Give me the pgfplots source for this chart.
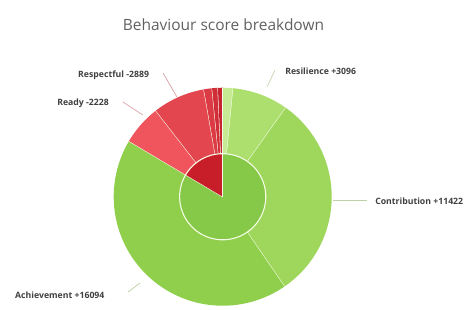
\documentclass[border=0pt]{standalone}
\usepackage{fontspec}
\setmainfont{Open Sans}
\usepackage{pgfplots}
\usepackage{pgfplotstable}
\pgfplotsset{compat=1.18}

\definecolor{cSml}{HTML}{C6EA94}
\definecolor{cRes}{HTML}{ADDF6E}
\definecolor{cCon}{HTML}{9FD75D}
\definecolor{cAch}{HTML}{8FCF4C}
\definecolor{cRea}{HTML}{F0545C}
\definecolor{cResp}{HTML}{E44650}
\definecolor{cNa}{HTML}{DC3A44}
\definecolor{cNb}{HTML}{D22E3A}
\definecolor{cNc}{HTML}{C92230}
\definecolor{cPos}{HTML}{86C847}
\definecolor{cNeg}{HTML}{C81E2A}
\definecolor{sep}{HTML}{F4FBE4}

% outer ring (categories)
\pgfplotstableread[col sep=comma]{
name,value,col
Other,575,cSml
Resilience,3096,cRes
Contribution,11422,cCon
Achievement,16094,cAch
Ready,2228,cRea
Respectful,2889,cResp
NegA,450,cNa
NegB,320,cNb
NegC,260,cNc
}\outerdata

% inner ring (positive / negative totals)
\pgfplotstableread[col sep=comma]{
name,value,col
Positive,31187,cPos
Negative,6147,cNeg
}\innerdata

\newcommand\drawring[3]{% table, r_in, r_out
  \pgfplotstablegetrowsof{#1}\pgfmathtruncatemacro\nlast{\pgfplotsretval-1}%
  \xdef\tot{0}%
  \foreach \i in {0,...,\nlast}{%
    \pgfplotstablegetelem{\i}{value}\of{#1}\xdef\tot{\fpeval{\tot+\pgfplotsretval}}}%
  \xdef\cum{0}%
  \foreach \i in {0,...,\nlast}{%
    \pgfplotstablegetelem{\i}{value}\of{#1}\edef\v{\pgfplotsretval}%
    \pgfplotstablegetelem{\i}{col}\of{#1}\edef\cc{\pgfplotsretval}%
    \edef\aa{\fpeval{round(90-\cum/\tot*360,4)}}%
    \edef\ab{\fpeval{round(90-(\cum+\v)/\tot*360,4)}}%
    \fill[\cc] plot[domain=\aa:\ab,samples=60,variable=\q] ({#2*cos(\q)},{#2*sin(\q)})
       -- plot[domain=\ab:\aa,samples=60,variable=\q] ({#3*cos(\q)},{#3*sin(\q)}) -- cycle;
    \draw[sep,line width=0.8pt] ({#2*cos(\ab)},{#2*sin(\ab)}) -- ({#3*cos(\ab)},{#3*sin(\ab)});
    \xdef\cum{\fpeval{\cum+\v}}%
  }%
}

\begin{document}
\begin{tikzpicture}
\begin{axis}[scale only axis, width=12cm, height=7.856cm,
  xmin=-2.043, xmax=2.287, ymin=-1.030, ymax=1.805,
  hide axis, clip=false]
\pgfplotsextra{
  \drawring{\outerdata}{0.395}{1}
  \drawring{\innerdata}{0}{0.395}
  \draw[sep,line width=0.8pt] plot[domain=0:360,samples=120,variable=\q] ({0.395*cos(\q)},{0.395*sin(\q)});
}
\path (axis cs:-2.043,-1.030) rectangle (axis cs:2.287,1.805);
\node[font=\fontsize{11.2}{13}\selectfont, text=black!62] at (axis cs:0.007,1.575) {Behaviour score breakdown};
\tikzset{lbl/.style={anchor=west, font=\fontsize{6.3}{7}\selectfont\bfseries, text=black!75, inner sep=0pt}}
\draw[cRes!60!gray!60, line width=0.5pt] (axis cs:0.480,1.162) -- (axis cs:0.406,1.006);
\node[lbl] at (axis cs:0.572,1.153) {Resilience +3096};
\draw[cCon!60!gray!60, line width=0.5pt] (axis cs:1.011,-0.030) -- (axis cs:1.323,-0.030);
\node[lbl] at (axis cs:1.397,-0.039) {Contribution +11422};
\draw[cAch!60!gray!60, line width=0.5pt] (axis cs:-0.869,-0.875) -- (axis cs:-0.759,-0.792);
\node[lbl] at (axis cs:-1.906,-0.902) {Achievement +16094};
\draw[cRea!60!gray!60, line width=0.5pt] (axis cs:-0.915,0.869) -- (axis cs:-0.732,0.750);
\node[lbl] at (axis cs:-1.520,0.860) {Ready -2228};
\draw[cResp!60!gray!60, line width=0.5pt] (axis cs:-0.547,1.134) -- (axis cs:-0.419,0.914);
\node[lbl] at (axis cs:-1.328,1.117) {Respectful -2889};
\end{axis}
\end{tikzpicture}
\end{document}
